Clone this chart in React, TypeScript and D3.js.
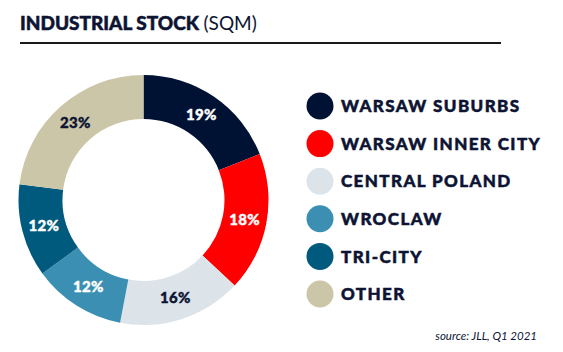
import React, { useEffect, useRef } from 'react';
import * as d3 from 'd3';

const categories = ['WARSAW SUBURBS', 'WARSAW INNER CITY', 'CENTRAL POLAND', 'WROCLAW', 'TRI-CITY', 'OTHER'];
const shares = [19, 18, 16, 12, 12, 23];
const colors = ['#001233', '#ff0000', '#dce4ea', '#3a8fb2', '#005a7e', '#ccc6a8'];
const labelColors = ['#ffffff', '#ffffff', '#0d1433', '#ffffff', '#ffffff', '#0d1433'];

const App: React.FC = () => {
    const ref = useRef<SVGSVGElement | null>(null);

    useEffect(() => {
        if (!ref.current) return;
        const width = 563;
        const height = 352;
        const font = 'Lato, "Noto Sans", sans-serif';

        const svg = d3.select(ref.current);
        svg.selectAll('*').remove();
        svg.attr('width', width).attr('height', height);

        // title
        const title = svg.append('text')
            .attr('x', 20)
            .attr('y', 30)
            .style('font-family', font)
            .style('font-size', '19px')
            .style('fill', '#0d1433');
        title.append('tspan')
            .style('font-weight', 900)
            .style('stroke', '#0d1433')
            .style('stroke-width', '0.5px')
            .text('INDUSTRIAL STOCK ');
        title.append('tspan').style('font-weight', 400).text('(SQM)');

        svg.append('line')
            .attr('x1', 20).attr('x2', 501)
            .attr('y1', 43).attr('y2', 43)
            .attr('stroke', '#1a1a1a')
            .attr('stroke-width', 2);

        // donut
        const cx = 143.5, cy = 200;
        const outer = 125, inner = 81;
        const pie = d3.pie<number>().sort(null).value(d => d);
        const arcs = pie(shares);
        const arc = d3.arc<d3.PieArcDatum<number>>().innerRadius(inner).outerRadius(outer);
        const g = svg.append('g').attr('transform', `translate(${cx},${cy})`);

        g.selectAll('path')
            .data(arcs)
            .enter()
            .append('path')
            .attr('d', arc)
            .attr('fill', (d, i) => colors[i]);

        const labelArc = d3.arc<d3.PieArcDatum<number>>().innerRadius(103).outerRadius(103);
        g.selectAll('text')
            .data(arcs)
            .enter()
            .append('text')
            .attr('transform', d => `translate(${labelArc.centroid(d)})`)
            .attr('text-anchor', 'middle')
            .attr('dy', '0.35em')
            .style('font-family', font)
            .style('font-weight', 900)
            .style('font-size', '15px')
            .style('letter-spacing', '0.3px')
            .style('stroke', (d, i) => labelColors[i])
            .style('stroke-width', '0.4px')
            .style('fill', (d, i) => labelColors[i])
            .text(d => `${d.data}%`);

        // legend
        const ly = d3.scalePoint<string>().domain(categories).range([106, 294]);
        const legend = svg.append('g');
        legend.selectAll('circle')
            .data(categories)
            .enter()
            .append('circle')
            .attr('cx', 320)
            .attr('cy', d => ly(d)!)
            .attr('r', 13.5)
            .attr('fill', (d, i) => colors[i]);
        legend.selectAll('text')
            .data(categories)
            .enter()
            .append('text')
            .attr('x', 341)
            .attr('y', d => ly(d)!)
            .attr('dy', '0.36em')
            .style('font-family', font)
            .style('font-weight', 900)
            .style('font-size', '17px')
            .style('letter-spacing', '1.4px')
            .style('stroke', '#0d1433')
            .style('stroke-width', '0.5px')
            .style('fill', '#0d1433')
            .text(d => d);

        // source
        svg.append('text')
            .attr('x', 537)
            .attr('y', 340)
            .attr('text-anchor', 'end')
            .style('font-family', font)
            .style('font-style', 'italic')
            .style('font-size', '11.5px')
            .style('fill', '#0d1433')
            .text('source: JLL, Q1 2021');
    }, []);

    return <svg ref={ref} style={{ position: 'absolute', left: 0, top: 0 }} />;
};

export default App;
